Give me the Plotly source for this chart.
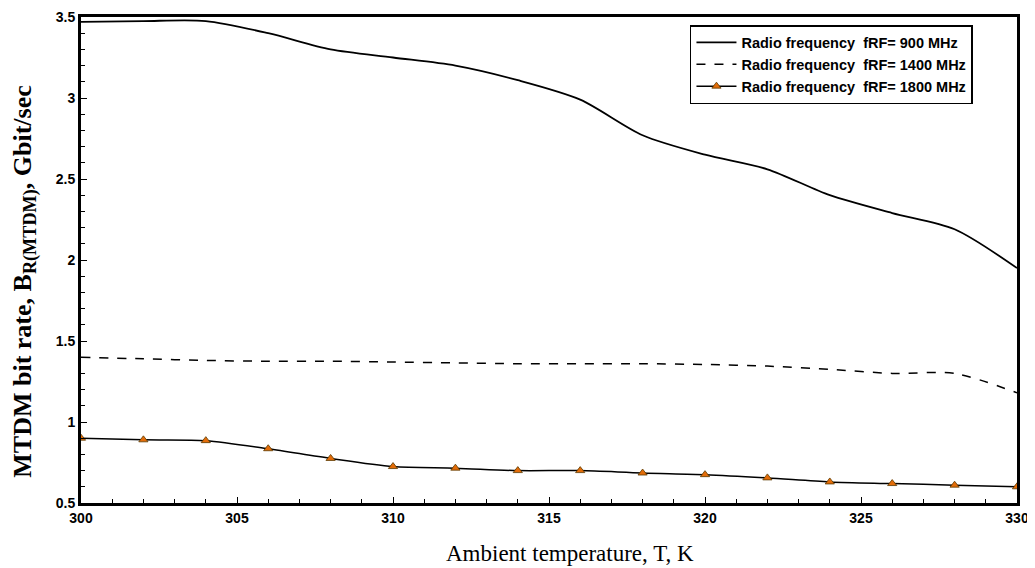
import plotly.graph_objects as go

temps = [300, 302, 304, 306, 308, 310, 312, 314, 316, 318, 320, 322, 324, 326, 328, 330]
rate_900 = [3.47, 3.475, 3.475, 3.40, 3.30, 3.25, 3.20, 3.11, 2.99, 2.77, 2.65, 2.56, 2.40, 2.29, 2.19, 1.95]
rate_1400 = [1.40, 1.39, 1.38, 1.375, 1.375, 1.37, 1.365, 1.36, 1.36, 1.36, 1.355, 1.345, 1.325, 1.30, 1.30, 1.18]
rate_1800 = [0.90, 0.89, 0.885, 0.835, 0.775, 0.725, 0.715, 0.70, 0.70, 0.685, 0.675, 0.655, 0.63, 0.62, 0.61, 0.60]
names = ["<b>Radio frequency  fRF= 900 MHz</b>", "<b>Radio frequency  fRF= 1400 MHz</b>", "<b>Radio frequency  fRF= 1800 MHz</b>"]
x_title = "Ambient temperature, T, K"
y_title = "<b>MTDM bit rate, B<sub>R(MTDM)</sub>, Gbit/sec</b>"

fig = go.Figure()
fig.add_trace(go.Scatter(x=temps, y=rate_900, mode="lines", name=names[0],
                         line=dict(color="black", width=1.8, shape="spline", smoothing=0.8)))
fig.add_trace(go.Scatter(x=temps, y=rate_1400, mode="lines", name=names[1],
                         line=dict(color="black", width=1.5, dash="dash", shape="spline", smoothing=0.8)))
fig.add_trace(go.Scatter(x=temps, y=rate_1800, mode="lines+markers", name=names[2],
                         line=dict(color="black", width=1.5, shape="spline", smoothing=0.8),
                         marker=dict(symbol="triangle-up", size=8, color="#e36c09",
                                     line=dict(color="#5a3a00", width=0.8))))

axis_common = dict(showline=True, linecolor="black", linewidth=3, mirror=True,
                   ticks="inside", tickcolor="black", ticklen=6, tickwidth=1,
                   showgrid=False, zeroline=False, automargin=False,
                   tickprefix="<b>", ticksuffix="</b>",
                   tickfont=dict(family="Liberation Sans, Arial", size=14, color="black"))

fig.update_xaxes(range=[300, 330], dtick=5, tick0=300,
                 minor=dict(dtick=1, ticks="inside", ticklen=4, tickcolor="black"),
                 **axis_common)
fig.update_yaxes(range=[0.5, 3.5], dtick=0.5, tick0=0.5,
                 minor=dict(dtick=0.1, ticks="inside", ticklen=4, tickcolor="black"),
                 **axis_common)

# plot area in figure px: x 73..1009, y 9..495 (height 486)
fig.add_annotation(text=x_title, xref="paper", yref="paper", x=0.522, y=-0.103,
                   xanchor="center", yanchor="middle", showarrow=False,
                   font=dict(family="Liberation Serif, Times New Roman", size=23, color="black"))
fig.add_annotation(text=y_title, xref="paper", yref="paper", x=-0.060, y=0.455,
                   xanchor="center", yanchor="middle", showarrow=False, textangle=-90,
                   font=dict(family="Liberation Serif, Times New Roman", size=26, color="black"))

# page body has an 8px default margin; compensate so the plot area lands where the reference has it
fig.update_layout(
    width=1024, height=560,
    margin=dict(l=73, r=15, t=9, b=65),
    plot_bgcolor="white", paper_bgcolor="white",
    legend=dict(x=0.6506, y=0.9835, xanchor="left", yanchor="top",
                bgcolor="white", bordercolor="black", borderwidth=1.5,
                font=dict(family="Liberation Sans, Arial", size=14.5, color="black"),
                itemwidth=40, tracegroupgap=0),
    showlegend=True,
)

fig.write_html("out.html")
